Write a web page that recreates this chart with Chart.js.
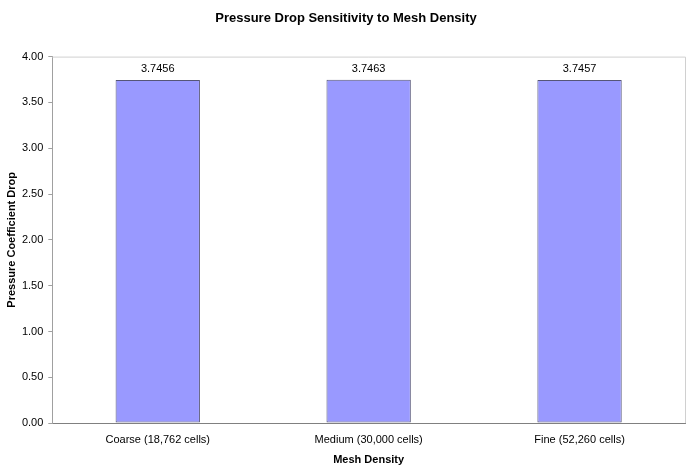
<!DOCTYPE html>
<html><head><meta charset="utf-8">
<script src="https://cdn.jsdelivr.net/npm/chart.js@4/dist/chart.umd.min.js"></script>
<style>html,body{margin:0;padding:0;background:#fff}#c{display:block}</style>
</head><body>
<canvas id="c" width="696" height="473"></canvas>
<script>
const categories = ["Coarse (18,762 cells)", "Medium (30,000 cells)", "Fine (52,260 cells)"];
const values = [3.7456, 3.7463, 3.7457];
const valueLabels = ["3.7456", "3.7463", "3.7457"];
const yTicks = [0, 0.5, 1, 1.5, 2, 2.5, 3, 3.5, 4];

const FONT = "'Liberation Sans', Arial, sans-serif";

const frame = {
  id: 'frame',
  afterDatasetsDraw(chart) {
    const {ctx, chartArea: a} = chart;
    ctx.save();
    ctx.strokeStyle = '#d0d0d0';
    ctx.lineWidth = 1;
    ctx.beginPath();
    ctx.moveTo(a.left, a.top + 0.5);
    ctx.lineTo(a.right + 0.5, a.top + 0.5);
    ctx.lineTo(a.right + 0.5, a.bottom);
    ctx.stroke();
    const meta = chart.getDatasetMeta(0);
    ctx.fillStyle = '#000';
    ctx.font = '11px ' + FONT;
    ctx.textAlign = 'center';
    ctx.textBaseline = 'bottom';
    meta.data.forEach((bar, i) => {
      ctx.fillText(valueLabels[i], bar.x, bar.y - 5);
    });
    ctx.restore();
  }
};

new Chart(document.getElementById('c'), {
  type: 'bar',
  data: {
    labels: categories,
    datasets: [{
      data: values,
      backgroundColor: '#9999ff',
      borderColor: '#555577',
      borderWidth: 1,
      borderSkipped: false,
      categoryPercentage: 1.0,
      barPercentage: 0.4
    }]
  },
  options: {
    responsive: false,
    animation: false,
    devicePixelRatio: 1,
    layout: { padding: { left: 7, right: 11, top: 0, bottom: 9 } },
    plugins: {
      legend: { display: false },
      tooltip: { enabled: false },
      title: {
        display: true,
        text: 'Pressure Drop Sensitivity to Mesh Density',
        color: '#000',
        font: { family: FONT, size: 13, weight: 'bold' },
        padding: { top: 11, bottom: 30 }
      }
    },
    scales: {
      x: {
        grid: { display: false, drawTicks: false },
        border: { color: '#808080', width: 1 },
        ticks: { color: '#000', font: { family: FONT, size: 11 }, padding: 10 },
        title: {
          display: true, text: 'Mesh Density', color: '#000',
          font: { family: FONT, size: 11, weight: 'bold', lineHeight: 0.7 }, padding: { top: 0, bottom: 0 }
        }
      },
      y: {
        min: 0, max: 4,
        afterBuildTicks(axis) { axis.ticks = yTicks.map(v => ({ value: v })); },
        grid: { drawOnChartArea: false, drawTicks: true, tickLength: 4, color: '#a0a0a0' },
        border: { color: '#a0a0a0', width: 1 },
        ticks: {
          color: '#000', font: { family: FONT, size: 11 }, padding: 5,
          callback: v => Number(v).toFixed(2)
        },
        title: {
          display: true, text: 'Pressure Coefficient Drop', color: '#000',
          font: { family: FONT, size: 11, weight: 'bold', lineHeight: 0.9 }, padding: { top: 0, bottom: 0 }
        }
      }
    }
  },
  plugins: [frame]
});
</script>
</body></html>
